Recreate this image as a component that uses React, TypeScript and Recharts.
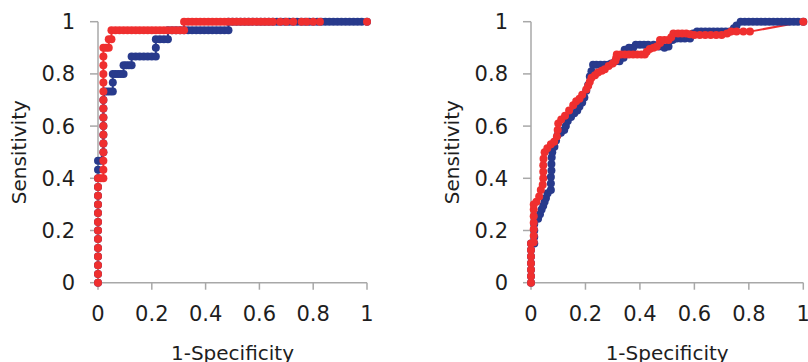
import React from 'react';
import { LineChart, Line, XAxis, YAxis } from 'recharts';

type P = [number, number];

const FONT = '"DejaVu Sans", Verdana, sans-serif';
const BLUE = '#283a8c';
const RED = '#ef2f2f';
const AXIS = '#a8a8a8';
const TEXT = '#1e1e1e';

const axisTicks = [0, 0.2, 0.4, 0.6, 0.8, 1];
const tickLabels = ['0', '0.2', '0.4', '0.6', '0.8', '1'];
const xTitle = '1-Specificity';
const yTitle = 'Sensitivity';

// Left panel, blue curve (1-specificity, sensitivity)
const leftBlue: P[] = [
  [0, 0], [0, 0.033], [0, 0.067], [0, 0.1], [0, 0.133], [0, 0.167], [0, 0.2], [0, 0.233], [0, 0.267],
  [0, 0.3], [0, 0.333], [0, 0.367], [0, 0.4], [0, 0.433], [0, 0.467], [0.01, 0.467],
  [0.02, 0.5], [0.02, 0.533], [0.02, 0.567], [0.02, 0.6], [0.02, 0.633], [0.02, 0.667], [0.02, 0.7],
  [0.025, 0.733], [0.035, 0.733], [0.045, 0.733], [0.055, 0.733], [0.055, 0.767], [0.055, 0.8],
  [0.065, 0.8], [0.075, 0.8], [0.085, 0.8], [0.095, 0.8], [0.095, 0.833], [0.105, 0.833], [0.115, 0.833],
  [0.125, 0.833], [0.125, 0.867], [0.14, 0.867], [0.155, 0.867], [0.17, 0.867], [0.185, 0.867], [0.2, 0.867],
  [0.215, 0.867], [0.215, 0.9], [0.215, 0.933], [0.23, 0.933], [0.245, 0.933], [0.26, 0.933], [0.26, 0.967],
  [0.275, 0.967], [0.29, 0.967], [0.305, 0.967], [0.32, 0.967], [0.335, 0.967], [0.35, 0.967], [0.365, 0.967],
  [0.38, 0.967], [0.395, 0.967], [0.41, 0.967], [0.425, 0.967], [0.44, 0.967], [0.455, 0.967], [0.47, 0.967],
  [0.485, 0.967], [0.485, 1], [0.5, 1], [0.515, 1], [0.53, 1], [0.545, 1], [0.56, 1], [0.575, 1], [0.59, 1],
  [0.605, 1], [0.62, 1], [0.635, 1], [0.65, 1], [0.665, 1], [0.68, 1], [0.695, 1], [0.71, 1], [0.725, 1],
  [0.74, 1], [0.755, 1], [0.77, 1], [0.785, 1], [0.8, 1], [0.815, 1], [0.83, 1], [0.845, 1], [0.86, 1],
  [0.875, 1], [0.89, 1], [0.905, 1], [0.92, 1], [0.935, 1], [0.95, 1], [0.965, 1], [0.98, 1], [1, 1],
];

// Left panel, red curve
const leftRed: P[] = [
  [0, 0], [0, 0.033], [0, 0.067], [0, 0.1], [0, 0.133], [0, 0.167], [0, 0.2], [0, 0.233], [0, 0.267],
  [0, 0.3], [0, 0.333], [0, 0.367], [0, 0.4], [0.01, 0.4], [0.02, 0.4], [0.02, 0.433], [0.02, 0.467],
  [0.02, 0.5], [0.02, 0.533], [0.02, 0.567], [0.02, 0.6], [0.02, 0.633], [0.02, 0.667], [0.02, 0.7],
  [0.02, 0.733], [0.02, 0.767], [0.02, 0.8], [0.02, 0.833], [0.02, 0.867], [0.02, 0.9], [0.03, 0.9],
  [0.04, 0.9], [0.04, 0.933], [0.05, 0.933], [0.05, 0.967], [0.065, 0.967], [0.08, 0.967], [0.095, 0.967],
  [0.11, 0.967], [0.125, 0.967], [0.14, 0.967], [0.155, 0.967], [0.17, 0.967], [0.185, 0.967], [0.2, 0.967],
  [0.215, 0.967], [0.23, 0.967], [0.245, 0.967], [0.26, 0.967], [0.275, 0.967], [0.29, 0.967], [0.305, 0.967],
  [0.32, 0.967], [0.32, 1], [0.335, 1], [0.35, 1], [0.365, 1], [0.38, 1], [0.395, 1], [0.41, 1], [0.425, 1],
  [0.44, 1], [0.455, 1], [0.47, 1], [0.485, 1], [0.5, 1], [0.515, 1], [0.53, 1], [0.545, 1], [0.56, 1],
  [0.575, 1], [0.59, 1], [0.605, 1], [0.62, 1], [0.635, 1], [0.65, 1], [0.677, 1], [0.7, 1], [0.726, 1],
  [0.757, 1], [0.776, 1], [0.8, 1], [0.825, 1], [1, 1],
];

// Right panel, blue curve
const rightBlue: P[] = [
  [0, 0], [0, 0.025], [0, 0.05], [0, 0.075], [0, 0.1], [0, 0.125], [0, 0.15], [0.012, 0.15], [0.012, 0.175],
  [0.012, 0.2], [0.012, 0.225], [0.015, 0.245], [0.026, 0.245], [0.033, 0.262], [0.039, 0.28], [0.045, 0.295],
  [0.05, 0.31], [0.055, 0.325], [0.061, 0.343], [0.073, 0.355], [0.073, 0.38], [0.073, 0.405], [0.075, 0.43],
  [0.075, 0.455], [0.076, 0.48], [0.078, 0.5], [0.086, 0.521], [0.092, 0.545], [0.098, 0.566], [0.11, 0.575],
  [0.122, 0.585], [0.128, 0.6], [0.135, 0.62], [0.147, 0.635], [0.159, 0.649], [0.17, 0.66], [0.178, 0.675],
  [0.188, 0.69], [0.196, 0.71], [0.203, 0.735], [0.21, 0.757], [0.216, 0.79], [0.222, 0.81], [0.228, 0.835],
  [0.24, 0.835], [0.255, 0.835], [0.27, 0.835], [0.283, 0.835], [0.295, 0.84], [0.31, 0.848], [0.325, 0.848],
  [0.34, 0.862], [0.344, 0.88], [0.344, 0.893], [0.36, 0.9], [0.375, 0.9], [0.385, 0.912], [0.4, 0.912],
  [0.415, 0.912], [0.43, 0.912], [0.45, 0.912], [0.47, 0.905], [0.49, 0.9], [0.505, 0.905], [0.52, 0.93],
  [0.535, 0.936], [0.55, 0.936], [0.565, 0.936], [0.584, 0.936], [0.595, 0.955], [0.61, 0.962], [0.625, 0.962],
  [0.64, 0.962], [0.655, 0.962], [0.67, 0.962], [0.685, 0.962], [0.7, 0.962], [0.715, 0.962], [0.73, 0.962],
  [0.745, 0.975], [0.755, 0.985], [0.77, 1], [0.785, 1], [0.8, 1], [0.815, 1], [0.83, 1], [0.845, 1], [0.86, 1],
  [0.875, 1], [0.89, 1], [0.905, 1], [0.92, 1], [0.935, 1], [0.95, 1], [0.965, 1], [0.98, 1], [1, 1],
];

// Right panel, red curve
const rightRed: P[] = [
  [0, 0], [0, 0.025], [0, 0.05], [0, 0.075], [0, 0.1], [0, 0.125], [0, 0.15], [0.01, 0.155], [0.01, 0.18],
  [0.01, 0.205], [0.01, 0.23], [0.01, 0.255], [0.01, 0.28], [0.01, 0.3], [0.02, 0.31], [0.03, 0.33],
  [0.036, 0.355], [0.043, 0.375], [0.045, 0.4], [0.045, 0.425], [0.045, 0.45], [0.046, 0.475], [0.05, 0.5],
  [0.06, 0.515], [0.073, 0.53], [0.085, 0.54], [0.095, 0.56], [0.098, 0.585], [0.1, 0.61], [0.111, 0.625],
  [0.125, 0.64], [0.14, 0.66], [0.155, 0.68], [0.166, 0.695], [0.178, 0.705], [0.188, 0.72], [0.203, 0.74],
  [0.21, 0.755], [0.216, 0.77], [0.222, 0.785], [0.235, 0.795], [0.246, 0.805], [0.26, 0.812], [0.271, 0.818],
  [0.285, 0.83], [0.3, 0.84], [0.31, 0.85], [0.313, 0.862], [0.315, 0.874], [0.33, 0.874], [0.345, 0.874],
  [0.36, 0.874], [0.375, 0.874], [0.39, 0.874], [0.405, 0.874], [0.418, 0.874], [0.425, 0.885], [0.436, 0.895],
  [0.45, 0.9], [0.462, 0.905], [0.474, 0.918], [0.474, 0.93], [0.49, 0.93], [0.505, 0.93], [0.515, 0.94],
  [0.523, 0.955], [0.54, 0.955], [0.555, 0.955], [0.57, 0.955], [0.584, 0.952], [0.6, 0.949], [0.62, 0.949],
  [0.64, 0.949], [0.66, 0.949], [0.68, 0.949], [0.7, 0.949], [0.72, 0.955], [0.735, 0.962], [0.755, 0.962],
  [0.78, 0.962], [0.804, 0.962], [1, 1],
];

const rows = (pts: P[]) => pts.map(([x, y]) => ({ x, y }));
const fmt = (v: number) => {
  const i = axisTicks.indexOf(v);
  return i >= 0 ? tickLabels[i] : String(v);
};

const XTitle = (props: any) => (
  <text x={props.tx} y={props.ty} textAnchor="middle" fill={TEXT} fontSize={20} fontFamily={FONT}>
    {xTitle}
  </text>
);

const YTitle = (props: any) => (
  <text
    x={props.tx}
    y={props.ty}
    transform={`rotate(-90, ${props.tx}, ${props.ty})`}
    textAnchor="middle"
    fill={TEXT}
    fontSize={20}
    fontFamily={FONT}
  >
    {yTitle}
  </text>
);

const TOP = 21.7;
const BOTTOM = 282.7;
const H = 362;

function RocPanel(props: { width: number; axisW: number; right: number; blue: P[]; red: P[] }) {
  const { width, axisW, right, blue, red } = props;
  const plotCx = axisW + (width - right - axisW) / 2;
  return (
    <LineChart width={width} height={H} margin={{ top: TOP, right, bottom: 0, left: 0 }}>
      <XAxis
        type="number"
        dataKey="x"
        domain={[0, 1]}
        ticks={axisTicks}
        tickFormatter={fmt}
        height={H - BOTTOM}
        stroke={AXIS}
        strokeWidth={1.5}
        tickSize={7}
        tickMargin={16}
        tick={{ fill: TEXT, fontSize: 21, fontFamily: FONT }}
        interval={0}
        label={<XTitle tx={plotCx} ty={359.5} />}
      />
      <YAxis
        type="number"
        dataKey="y"
        domain={[0, 1]}
        ticks={axisTicks}
        tickFormatter={fmt}
        width={axisW}
        stroke={AXIS}
        strokeWidth={1.5}
        tickSize={8}
        tickMargin={15}
        tick={{ fill: TEXT, fontSize: 21, fontFamily: FONT }}
        interval={0}
        label={<YTitle tx={axisW - 71.5} ty={(TOP + BOTTOM) / 2} />}
      />
      <Line
        data={rows(blue)}
        dataKey="y"
        stroke={BLUE}
        strokeWidth={2}
        dot={{ r: 4, fill: BLUE, stroke: BLUE, strokeWidth: 0 }}
        activeDot={false}
        isAnimationActive={false}
      />
      <Line
        data={rows(red)}
        dataKey="y"
        stroke={RED}
        strokeWidth={2}
        dot={{ r: 4, fill: RED, stroke: RED, strokeWidth: 0 }}
        activeDot={false}
        isAnimationActive={false}
      />
    </LineChart>
  );
}

export default function App() {
  return (
    <div style={{ position: 'absolute', left: 0, top: 0, width: 808, height: 362, background: '#fff', overflow: 'hidden' }}>
      <div style={{ position: 'absolute', left: 0, top: 0 }}>
        <RocPanel width={400} axisW={98} right={33} blue={leftBlue} red={leftRed} />
      </div>
      <div style={{ position: 'absolute', left: 420, top: 0 }}>
        <RocPanel width={388} axisW={111} right={4.7} blue={rightBlue} red={rightRed} />
      </div>
    </div>
  );
}
